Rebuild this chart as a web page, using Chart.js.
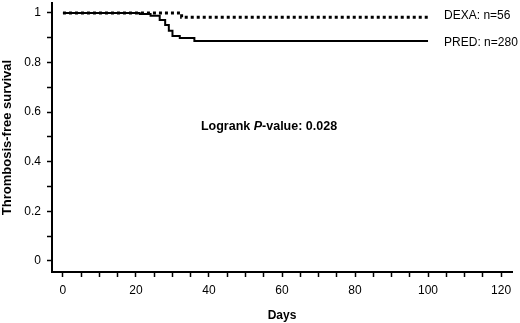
<!DOCTYPE html>
<html>
<head>
<meta charset="utf-8">
<script src="https://cdn.jsdelivr.net/npm/chart.js@4/dist/chart.umd.min.js"></script>
<style>
  body { margin: 0; background: #fff; }
</style>
</head>
<body>
<canvas id="km" width="520" height="323"></canvas>
<script>
// Kaplan-Meier curves (day, survival)
const dexaDays = [0, 32.5, 100];
const dexaSurv = [1, 0.983, 0.983];
const predDays = [0, 21, 24, 26.5, 28, 29, 30, 32, 36, 100];
const predSurv = [1, 0.996, 0.989, 0.971, 0.951, 0.928, 0.907, 0.899, 0.887, 0.887];

const xTicks = [0,5,10,15,20,25,30,35,40,45,50,55,60,65,70,75,80,85,90,95,100,105,110,115,120];
const xLabelled = [0, 20, 40, 60, 80, 100, 120];
const yTicks = [0, 0.1, 0.2, 0.3, 0.4, 0.5, 0.6, 0.7, 0.8, 0.9, 1];
const yLabels = {0: '0', 0.2: '0.2', 0.4: '0.4', 0.6: '0.6', 0.8: '0.8', 1: '1'};

const seriesLabels = ['DEXA: n=56', 'PRED: n=280'];
const pText = ['Logrank ', 'P', '-value: 0.028'];

function toPoints(xs, ys) {
    return xs.map((x, i) => ({x: x, y: ys[i]}));
}

// texts next to curves + the logrank note
const notes = {
    id: 'notes',
    afterDraw(chart) {
        const ctx = chart.ctx;
        const xs = chart.scales.x, ys = chart.scales.y;
        ctx.save();
        ctx.fillStyle = '#000';
        ctx.textBaseline = 'middle';
        ctx.font = '12px "Liberation Sans", Arial, sans-serif';
        ctx.fillText(seriesLabels[0], xs.getPixelForValue(104.4), ys.getPixelForValue(0.99));
        ctx.fillText(seriesLabels[1], xs.getPixelForValue(104.4), ys.getPixelForValue(0.88));

        // bold note, with italic P
        let x = xs.getPixelForValue(37.8);
        const y = ys.getPixelForValue(0.54);
        ctx.font = 'bold 12.5px "Liberation Sans", Arial, sans-serif';
        ctx.fillText(pText[0], x, y);
        x += ctx.measureText(pText[0]).width;
        ctx.font = 'italic bold 12.5px "Liberation Sans", Arial, sans-serif';
        ctx.fillText(pText[1], x, y);
        x += ctx.measureText(pText[1]).width;
        ctx.font = 'bold 12.5px "Liberation Sans", Arial, sans-serif';
        ctx.fillText(pText[2], x, y);
        ctx.restore();
    }
};

new Chart(document.getElementById('km'), {
    type: 'line',
    data: {
        datasets: [{
            label: seriesLabels[0],
            data: toPoints(dexaDays, dexaSurv),
            stepped: true,
            borderColor: '#000',
            borderWidth: 3,
            borderDash: [3, 3],
            pointRadius: 0,
            fill: false
        }, {
            label: seriesLabels[1],
            data: toPoints(predDays, predSurv),
            stepped: true,
            borderColor: '#000',
            borderWidth: 2,
            pointRadius: 0,
            fill: false
        }]
    },
    options: {
        responsive: false,
        animation: false,
        layout: { padding: { top: 3, right: 8, left: 0, bottom: 0 } },
        plugins: {
            legend: { display: false },
            tooltip: { enabled: false }
        },
        scales: {
            x: {
                type: 'linear',
                min: -3,
                max: 123,
                afterBuildTicks: (s) => { s.ticks = xTicks.map(v => ({value: v})); },
                afterFit: (s) => { s.height = 51; s.paddingLeft = 0; s.paddingRight = 0; },
                border: { color: '#000', width: 2 },
                grid: { drawOnChartArea: false, drawTicks: true, tickLength: 5, color: '#000', tickWidth: 1.5 },
                ticks: {
                    color: '#000',
                    padding: 6,
                    autoSkip: false,
                    maxRotation: 0,
                    font: { family: '"Liberation Sans", Arial, sans-serif', size: 12 },
                    callback: (v) => xLabelled.includes(v) ? String(v) : ''
                },
                title: {
                    display: true,
                    text: 'Days',
                    color: '#000',
                    padding: { top: 2, bottom: 0 },
                    font: { family: '"Liberation Sans", Arial, sans-serif', size: 12, weight: 'bold' }
                }
            },
            y: {
                type: 'linear',
                min: -0.045,
                max: 1.04,
                afterBuildTicks: (s) => { s.ticks = yTicks.map(v => ({value: v})); },
                afterFit: (s) => { s.width = 52; s.paddingTop = 0; s.paddingBottom = 0; },
                border: { color: '#000', width: 2 },
                grid: { drawOnChartArea: false, drawTicks: true, tickLength: 5, color: '#000', tickWidth: 1.5 },
                ticks: {
                    color: '#000',
                    padding: 6,
                    autoSkip: false,
                    font: { family: '"Liberation Sans", Arial, sans-serif', size: 12 },
                    callback: (v) => yLabels[v] !== undefined ? yLabels[v] : ''
                },
                title: {
                    display: true,
                    text: 'Thrombosis-free survival',
                    color: '#000',
                    padding: { top: 0, bottom: 0 },
                    font: { family: '"Liberation Sans", Arial, sans-serif', size: 13, weight: 'bold' }
                }
            }
        }
    },
    plugins: [notes]
});
</script>
</body>
</html>
